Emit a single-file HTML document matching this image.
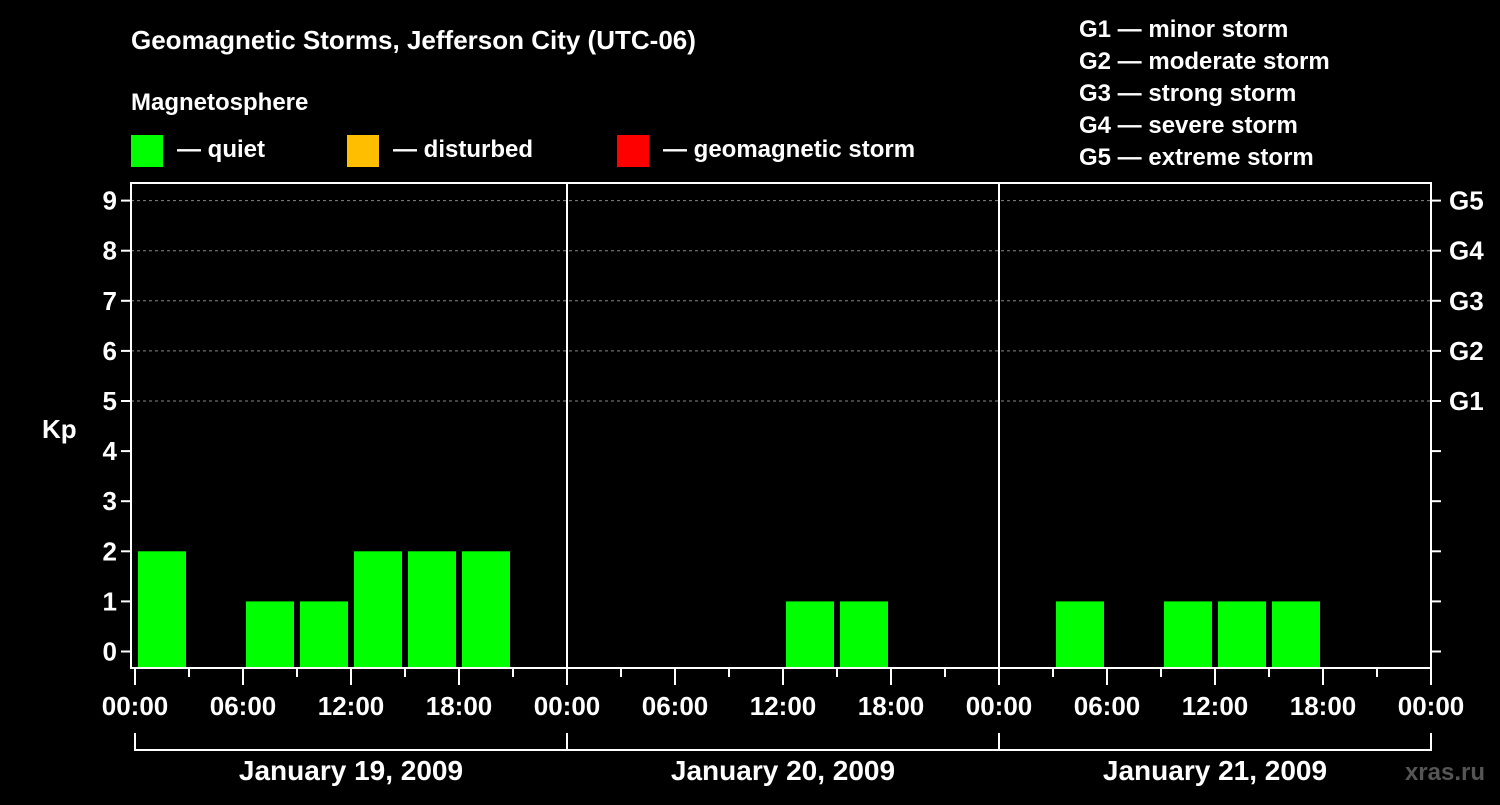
<!DOCTYPE html>
<html><head><meta charset="utf-8"><style>
body{margin:0;background:#000;width:1500px;height:800px;overflow:hidden}
svg text{font-family:"Liberation Sans",Arial,sans-serif;font-weight:bold;fill:#fff}
</style></head><body>
<svg id="chart" width="1500" height="800" xmlns="http://www.w3.org/2000/svg">
<rect width="1500" height="800" fill="#000"/>
<text x="131" y="49" font-size="26">Geomagnetic Storms, Jefferson City (UTC-06)</text>
<text x="131" y="110" font-size="24">Magnetosphere</text>
<rect x="131" y="135" width="32" height="32" fill="#00ff00"/>
<text x="177" y="157" font-size="24">— quiet</text>
<rect x="347" y="135" width="32" height="32" fill="#ffbf00"/>
<text x="393" y="157" font-size="24">— disturbed</text>
<rect x="617" y="135" width="32" height="32" fill="#ff0000"/>
<text x="663" y="157" font-size="24">— geomagnetic storm</text>
<g font-size="24">
<text x="1079" y="37">G1 — minor storm</text>
<text x="1079" y="69">G2 — moderate storm</text>
<text x="1079" y="101">G3 — strong storm</text>
<text x="1079" y="133">G4 — severe storm</text>
<text x="1079" y="165">G5 — extreme storm</text>
</g>
<g id="plot"></g>
<text x="1485" y="780" font-size="24" text-anchor="end" fill="#555" style="fill:#555">xras.ru</text>
</svg>
<script>
const days = ["January 19, 2009","January 20, 2009","January 21, 2009"];
const kpDay1 = [2,0,1,1,2,2,2,0];
const kpDay2 = [0,0,0,0,1,1,0,0];
const kpDay3 = [0,1,0,1,1,1,0,0];
const yTicks = [0,1,2,3,4,5,6,7,8,9];
const gLabels = ["G1","G2","G3","G4","G5"];
const xTickLabels = ["00:00","06:00","12:00","18:00"];
const NS="http://www.w3.org/2000/svg";
const g=document.getElementById('plot');
const L=131,R=1431,T=183,B=668,X0=135,PXH=18;
const xs=h=>X0+h*PXH;
const ys=v=>651.5-v*50.1;
function mk(t,a){const e=document.createElementNS(NS,t);for(const k in a)e.setAttribute(k,a[k]);g.appendChild(e);return e;}
// grid lines for G levels
for(let v=5;v<=9;v++){const e=mk('line',{x1:L,x2:R,y1:ys(v),y2:ys(v),stroke:'#888','stroke-dasharray':'3,3','stroke-width':1});

}
// bars
const all=[kpDay1,kpDay2,kpDay3];
all.forEach((arr,d)=>arr.forEach((v,i)=>{if(v<=0)return;const h=d*24+i*3;
const col=v>=5?'#ff0000':(v>=4?'#ffbf00':'#00ff00');
const e=mk('rect',{x:xs(h)+3,y:ys(v),width:3*PXH-6,height:B-ys(v),fill:col});

}));
// frame
const fr=mk('rect',{x:L,y:T,width:R-L,height:B-T,fill:'none',stroke:'#fff','stroke-width':2});


for(let d=1;d<3;d++){const e=mk('line',{x1:xs(d*24),x2:xs(d*24),y1:T,y2:B,stroke:'#fff','stroke-width':2});

}
// y ticks
yTicks.forEach(v=>{const y=ys(v);
const a=mk('line',{x1:L-10,x2:L,y1:y,y2:y,stroke:'#fff','stroke-width':2});


const b=mk('line',{x1:R,x2:R+10,y1:y,y2:y,stroke:'#fff','stroke-width':2});


const t=mk('text',{x:L-14,y:y+9,'font-size':26,'text-anchor':'end'});t.textContent=v;

});
gLabels.forEach((s,i)=>{const t=mk('text',{x:1449,y:ys(5+i)+9,'font-size':26});t.textContent=s;

});
const yt=mk('text',{x:42,y:438,'font-size':26});yt.textContent='Kp';


// x ticks
for(let h=0;h<=72;h+=3){const major=h%6===0;
const e=mk('line',{x1:xs(h),x2:xs(h),y1:B,y2:B+(major?17:9),stroke:'#fff','stroke-width':2});


if(major){const t=mk('text',{x:xs(h),y:715,'font-size':26,'text-anchor':'middle'});t.textContent=xTickLabels[(h/6)%4];

}}
// day brackets
days.forEach((s,d)=>{const x1=xs(d*24),x2=xs(d*24+24);
const p=mk('path',{d:`M${x1},733V750H${x2}V733`,fill:'none',stroke:'#fff','stroke-width':2});


const t=mk('text',{x:(x1+x2)/2,y:780,'font-size':28,'text-anchor':'middle'});t.textContent=s;

});
</script>
</body></html>
